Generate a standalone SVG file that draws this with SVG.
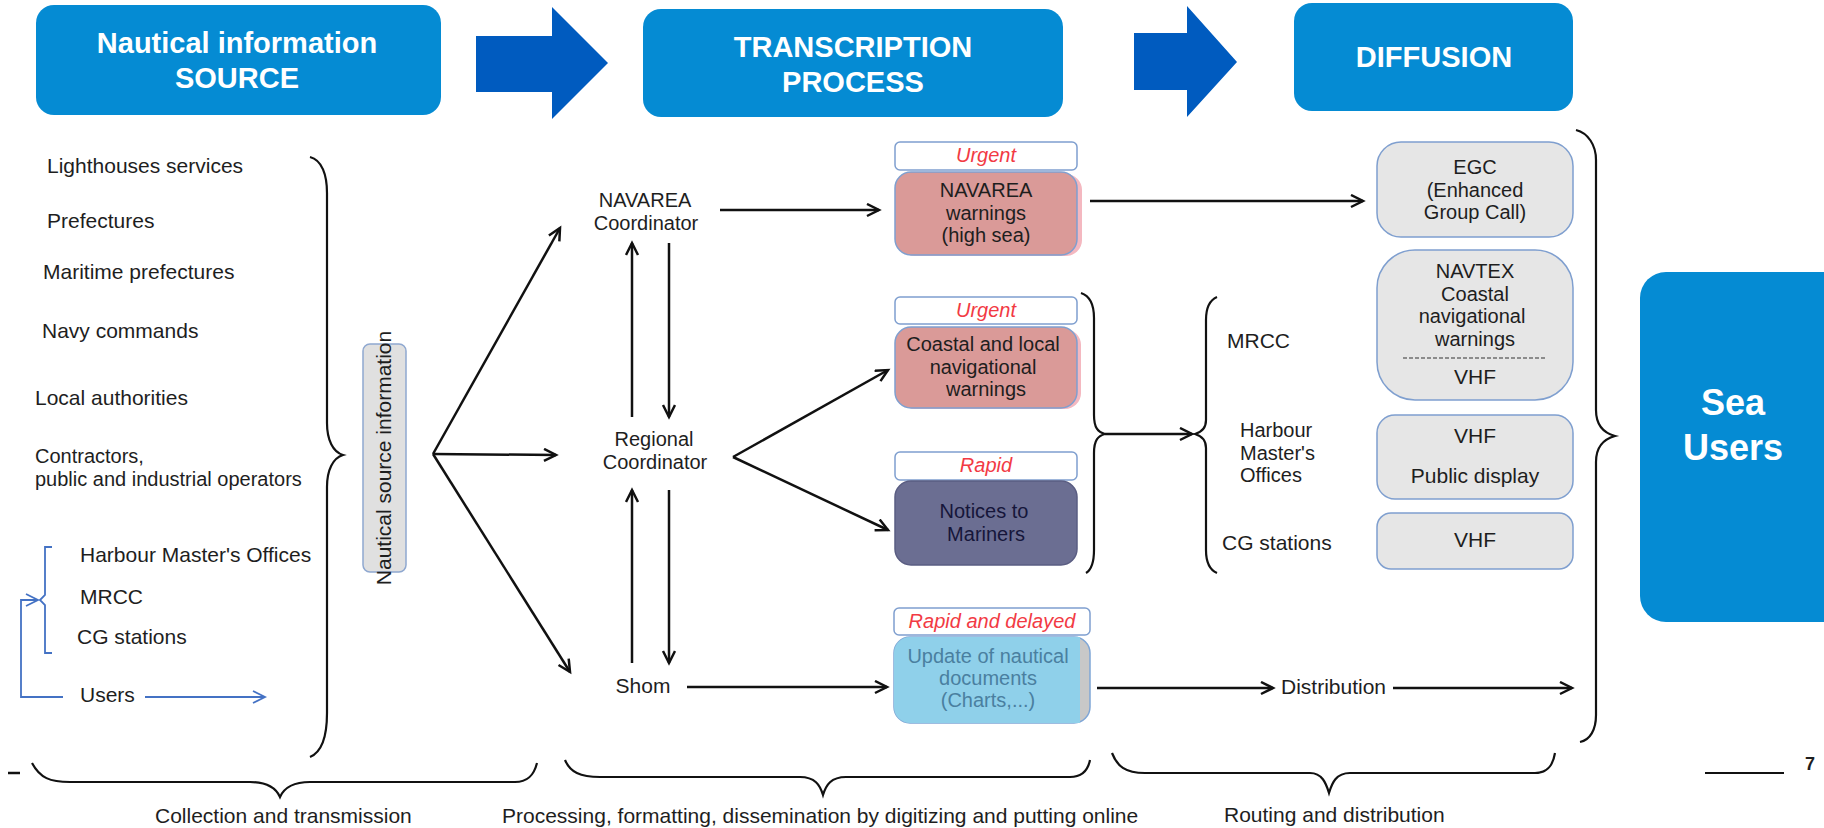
<svg xmlns="http://www.w3.org/2000/svg" width="1824" height="828" viewBox="0 0 1824 828">
<defs>
<style>
text{font-family:"Liberation Sans",Arial,sans-serif;fill:#1e1e1e;font-size:21px}
.m{font-size:20px}
.hd{fill:#058bd3}
.hdt{fill:#fff;font-weight:bold;font-size:29px;text-anchor:middle}
.bigarrow{fill:#005bbf}
.c{text-anchor:middle}
.lbl{fill:#fff;stroke:#7f9fcf;stroke-width:1.5}
.urg{fill:#f23a44;font-style:italic;font-size:20px;text-anchor:middle}
.pink{fill:#da9a98;stroke:#7f9fcf;stroke-width:1.5}
.grey{fill:#e6e6e6;stroke:#7f9fcf;stroke-width:1.5}
.ln{fill:none;stroke:#111;stroke-width:2.5}
.br{fill:none;stroke:#111;stroke-width:2.2}
.blue{fill:none;stroke:#4472c4;stroke-width:1.8}
</style>
<marker id="ah" markerUnits="userSpaceOnUse" markerWidth="16" markerHeight="16" refX="13" refY="7" orient="auto">
<path d="M1,1 L13,7 L1,13" fill="none" stroke="#111" stroke-width="2.5"/>
</marker>
<marker id="ahb" markerUnits="userSpaceOnUse" markerWidth="16" markerHeight="16" refX="13" refY="7" orient="auto">
<path d="M1,1 L13,7 L1,13" fill="none" stroke="#4472c4" stroke-width="1.8"/>
</marker>
</defs>
<rect width="1824" height="828" fill="#fff"/>

<g id="header-source">
<rect class="hd" x="36" y="5" width="405" height="110" rx="18"/>
<text class="hdt" x="237" y="53">Nautical information<tspan x="237" dy="35">SOURCE</tspan></text>
</g>
<g id="header-arrow1"><polygon class="bigarrow" points="476,36 552,36 552,7 608,63 552,119 552,92 476,92"/></g>
<g id="header-transcription">
<rect class="hd" x="643" y="9" width="420" height="108" rx="18"/>
<text class="hdt" x="853" y="57">TRANSCRIPTION<tspan x="853" dy="35">PROCESS</tspan></text>
</g>
<g id="header-arrow2"><polygon class="bigarrow" points="1134,33 1187,33 1187,6 1237,62 1187,117 1187,90 1134,90"/></g>
<g id="header-diffusion">
<rect class="hd" x="1294" y="3" width="279" height="108" rx="18"/>
<text class="hdt" x="1434" y="67">DIFFUSION</text>
</g>

<g id="sources">
<text x="47" y="173">Lighthouses services</text>
<text x="47" y="228">Prefectures</text>
<text x="43" y="279">Maritime prefectures</text>
<text x="42" y="338">Navy commands</text>
<text x="35" y="405">Local authorities</text>
<text x="35" y="463" class="m">Contractors,<tspan x="35" dy="22.5">public and industrial operators</tspan></text>
<text x="80" y="562">Harbour Master's Offices</text>
<text x="80" y="604">MRCC</text>
<text x="77" y="644">CG stations</text>
<text x="80" y="702">Users</text>
</g>
<g id="users-loop">
<path class="blue" d="M52,547 L45,547 L45,595 L40,600 L45,605 L45,653 L52,653"/>
<path class="blue" d="M63,697 L21,697 L21,600 L38,600" marker-end="url(#ahb)"/>
<path class="blue" d="M145,697 L265,697" marker-end="url(#ahb)"/>
</g>

<g id="nautical-source">
<rect x="363" y="344" width="43" height="228" rx="7" fill="#e0e0e0" stroke="#8fa8d0" stroke-width="1.5"/>
<text class="c" transform="translate(391,458) rotate(-90)" font-size="18">Nautical source information</text>
</g>

<g id="navarea-coord"><text class="c m" x="645" y="207">NAVAREA<tspan x="646" dy="22.5">Coordinator</tspan></text></g>
<g id="regional-coord"><text class="c m" x="654" y="446">Regional<tspan x="655" dy="22.5">Coordinator</tspan></text></g>
<g id="shom"><text class="c" x="643" y="693">Shom</text></g>

<g id="navarea-warnings">
<rect class="lbl" x="895" y="142" width="182" height="28" rx="5"/>
<text class="urg" x="986" y="162">Urgent</text>
<rect x="899" y="174" width="183" height="82" rx="16" fill="#f4b8c0"/>
<rect class="pink" x="895" y="172" width="182" height="83" rx="16"/>
<text class="c m" x="986" y="197">NAVAREA<tspan x="986" dy="22.5">warnings</tspan><tspan x="986" dy="22.5">(high sea)</tspan></text>
</g>
<g id="coastal-warnings">
<rect class="lbl" x="895" y="297" width="182" height="27" rx="5"/>
<text class="urg" x="986" y="317">Urgent</text>
<rect x="899" y="329" width="182" height="80" rx="16" fill="#f4b8c0"/>
<rect class="pink" x="895" y="327" width="182" height="81" rx="16"/>
<text class="c m" x="983" y="351">Coastal and local<tspan x="983" dy="22.5">navigational</tspan><tspan x="986" dy="22.5">warnings</tspan></text>
</g>
<g id="notices">
<rect class="lbl" x="895" y="452" width="182" height="28" rx="5"/>
<text class="urg" x="986" y="472">Rapid</text>
<rect x="895" y="481" width="182" height="84" rx="16" fill="#6b6e92" stroke="#5a5d82" stroke-width="1.5"/>
<text class="c m" x="984" y="518" style="fill:#16163a">Notices to<tspan x="986" dy="22.5">Mariners</tspan></text>
</g>
<g id="update-docs">
<rect class="lbl" x="894" y="608" width="196" height="27" rx="5"/>
<text class="urg" x="992" y="628">Rapid and delayed</text>
<rect x="894" y="637" width="196" height="86" rx="16" fill="#c8c8c8" stroke="#7fa6d6" stroke-width="1.5"/>
<path d="M910,637 L1080,637 L1080,723 L910,723 A16,16 0 0 1 894,707 L894,653 A16,16 0 0 1 910,637 Z" fill="#8fd0ea"/>
<text class="c m" x="988" y="663" style="fill:#4a7fa0">Update of nautical<tspan x="988" dy="22">documents</tspan><tspan x="988" dy="22">(Charts,...)</tspan></text>
</g>

<g id="relays">
<text x="1227" y="348">MRCC</text>
<text class="m" x="1240" y="437">Harbour<tspan x="1240" dy="22.5">Master's</tspan><tspan x="1240" dy="22.5">Offices</tspan></text>
<text x="1222" y="550">CG stations</text>
</g>

<g id="egc">
<rect class="grey" x="1377" y="142" width="196" height="95" rx="24"/>
<text class="c m" x="1475" y="174">EGC<tspan x="1475" dy="22.5">(Enhanced</tspan><tspan x="1475" dy="22.5">Group Call)</tspan></text>
</g>
<g id="navtex">
<rect class="grey" x="1377" y="250" width="196" height="150" rx="38"/>
<text class="c m" x="1475" y="278">NAVTEX<tspan x="1475" dy="22.5">Coastal</tspan><tspan x="1472" dy="22.5">navigational</tspan><tspan x="1475" dy="22.5">warnings</tspan></text>
<line x1="1403" y1="358" x2="1547" y2="358" stroke="#333" stroke-width="1.2" stroke-dasharray="4,2"/>
<text class="c" x="1475" y="384">VHF</text>
</g>
<g id="vhf-public">
<rect class="grey" x="1377" y="415" width="196" height="84" rx="18"/>
<text class="c" x="1475" y="443">VHF</text>
<text class="c" x="1475" y="483">Public display</text>
</g>
<g id="vhf-cg">
<rect class="grey" x="1377" y="513" width="196" height="56" rx="14"/>
<text class="c" x="1475" y="547">VHF</text>
</g>

<g id="sea-users">
<rect x="1640" y="272" width="210" height="350" rx="26" fill="#058bd3"/>
<text class="c" x="1733" y="415" style="fill:#fff;font-weight:bold;font-size:36px">Sea<tspan x="1733" dy="45">Users</tspan></text>
</g>

<g id="connectors">
<path class="ln" d="M433,454 L560,228" marker-end="url(#ah)"/>
<path class="ln" d="M433,454 L556,455" marker-end="url(#ah)"/>
<path class="ln" d="M433,454 L570,672" marker-end="url(#ah)"/>
<path class="ln" d="M720,210 L879,210" marker-end="url(#ah)"/>
<path class="ln" d="M632,417 L632,243" marker-end="url(#ah)"/>
<path class="ln" d="M669,243 L669,417" marker-end="url(#ah)"/>
<path class="ln" d="M632,663 L632,490" marker-end="url(#ah)"/>
<path class="ln" d="M669,490 L669,663" marker-end="url(#ah)"/>
<path class="ln" d="M733,457 L888,370" marker-end="url(#ah)"/>
<path class="ln" d="M733,457 L888,530" marker-end="url(#ah)"/>
<path class="ln" d="M687,687 L887,687" marker-end="url(#ah)"/>
<path class="ln" d="M1090,201 L1363,201" marker-end="url(#ah)"/>
<path class="ln" d="M1105,434 L1192,434" marker-end="url(#ah)"/>
<path class="ln" d="M1097,688 L1273,688" marker-end="url(#ah)"/>
<text x="1281" y="694" font-size="19">Distribution</text>
<path class="ln" d="M1393,688 L1572,688" marker-end="url(#ah)"/>
</g>

<g id="braces">
<path class="br" d="M310,157 C322,160 327,175 327,193 L327,423 C327,440 333,452 343,455 C333,458 327,470 327,487 L327,713 C327,735 322,752 310,757"/>
<path class="br" d="M1081,293 C1090,296 1094,305 1094,318 L1094,415 C1094,428 1098,432 1105,434 C1098,436 1094,440 1094,453 L1094,550 C1094,563 1091,570 1086,573"/>
<path class="br" d="M1217,297 C1210,300 1206,308 1206,320 L1206,420 C1206,428 1202,432 1195,434 C1202,436 1206,440 1206,448 L1206,550 C1206,563 1210,570 1217,573"/>
<path class="br" d="M1576,130 C1588,133 1596,145 1596,160 L1596,410 C1596,425 1604,433 1615,436 C1604,439 1596,447 1596,462 L1596,715 C1596,730 1590,740 1580,742"/>
<path class="br" d="M32,763 C40,778 50,782 70,782 L250,782 C268,782 276,788 280,797 C284,788 292,782 310,782 L515,782 C528,782 534,775 537,763"/>
<path class="br" d="M565,760 C570,772 580,777 600,777 L800,777 C815,777 820,785 823,795 C826,785 831,777 846,777 L1070,777 C1082,777 1088,770 1090,760"/>
<path class="br" d="M1112,753 C1117,766 1125,773 1145,773 L1310,773 C1322,773 1326,783 1329,793 C1332,783 1336,773 1350,773 L1535,773 C1548,773 1553,765 1555,753"/>
</g>

<g id="phase-labels">
<text x="155" y="823">Collection and transmission</text>
<text x="502" y="823">Processing, formatting, dissemination by digitizing and putting online</text>
<text x="1224" y="822">Routing and distribution</text>
</g>

<g id="footer">
<line x1="8" y1="773" x2="20" y2="773" stroke="#111" stroke-width="2.5"/>
<line x1="1705" y1="773" x2="1784" y2="773" stroke="#111" stroke-width="2"/>
<text x="1805" y="770" style="font-weight:bold;font-size:18px">7</text>
</g>
</svg>
